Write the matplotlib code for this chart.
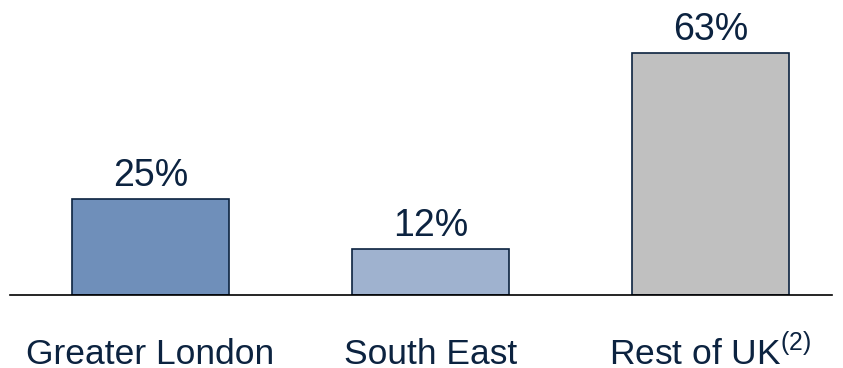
import matplotlib.pyplot as plt

plt.rcParams['font.family'] = ['Liberation Sans', 'DejaVu Sans']
plt.rcParams['mathtext.fontset'] = 'custom'
plt.rcParams['mathtext.rm'] = 'Liberation Sans'

regions = ["Greater London", "South East", "Rest of UK$^{\\mathrm{(2)}}$"]
shares = [25, 12, 63]
colors = ["#6f8fba", "#9fb2cf", "#c0c0c0"]
navy = "#0c2340"

fig = plt.figure(figsize=(8.43, 3.68), dpi=100)
ax = fig.add_axes([10 / 843, 73 / 368, 822 / 843, 295 / 368])

x = list(range(len(shares)))
bars = ax.bar(x, shares, width=0.56, color=colors, edgecolor=navy, linewidth=1.2, zorder=2)

# value labels just above each bar
for b, v in zip(bars, shares):
    ax.annotate(f"{v}%", (b.get_x() + b.get_width() / 2, v), xytext=(0, 9.5),
                textcoords="offset points", ha="center", va="baseline",
                fontsize=27, color=navy)

# category names under the baseline
for xi, name in zip(x, regions):
    ax.text(xi, -18.0, name, ha="center", va="baseline", fontsize=25.5,
            color=navy, clip_on=False)

ax.set_xlim(-0.502, 2.434)
ax.set_ylim(0, 76.8)
for s in ["top", "right", "left"]:
    ax.spines[s].set_visible(False)
ax.spines["bottom"].set_color("black")
ax.spines["bottom"].set_linewidth(1.2)
ax.set_xticks([])
ax.set_yticks([])

fig.savefig("out.png", dpi=100)
